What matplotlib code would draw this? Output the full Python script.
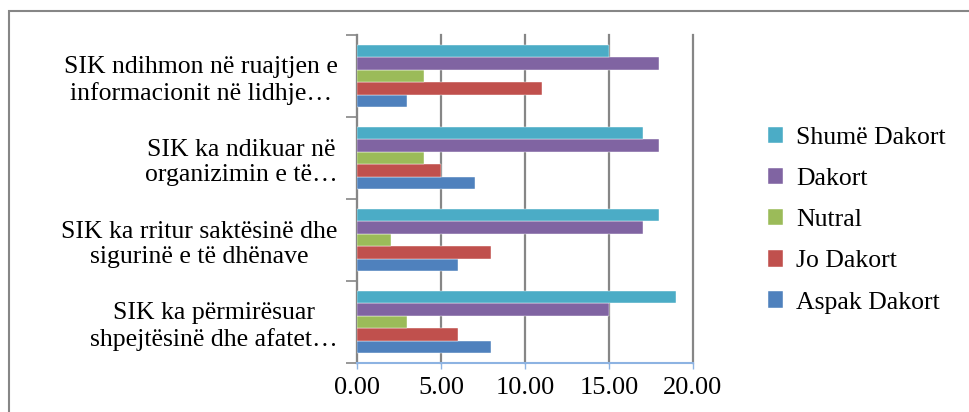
import matplotlib
matplotlib.use("Agg")
import matplotlib.pyplot as plt
from matplotlib.patches import Rectangle
import numpy as np

plt.rcParams['font.family'] = ['Liberation Serif', 'DejaVu Serif']

categories = [
    "SIK ka përmirësuar\nshpejtësinë dhe afatet…",
    "SIK ka rritur saktësinë dhe\nsigurinë e të dhënave",
    "SIK ka ndikuar në\norganizimin e të…",
    "SIK ndihmon në ruajtjen e\ninformacionit në lidhje…",
]
series = ["Aspak Dakort", "Jo Dakort", "Nutral", "Dakort", "Shumë Dakort"]
aspak_dakort = [8, 6, 7, 3]
jo_dakort = [6, 8, 5, 11]
nutral = [3, 2, 4, 4]
dakort = [15, 17, 18, 18]
shume_dakort = [19, 18, 17, 15]
values = [aspak_dakort, jo_dakort, nutral, dakort, shume_dakort]
colors = ['#4F81BD', '#C0504D', '#9BBB59', '#8064A2', '#4BACC6']
xticks = [0, 5, 10, 15, 20]

fig = plt.figure(figsize=(9.7, 4.12), dpi=100)
ax = fig.add_axes([357/970, 1-363/412, (693-357)/970, (363-35)/412])

y = np.arange(len(categories))
h = 0.152
for i, (name, vals) in enumerate(zip(series, values)):
    ax.barh(y + (i - 2) * h, vals, height=h, color=colors[i], label=name,
            edgecolor='white', linewidth=0.3, zorder=3)

ax.set_xlim(0, 20)
ax.set_ylim(-0.5, 3.5)
ax.set_xticks(xticks)
ax.set_xticklabels(["%.2f" % t for t in xticks], fontsize=19)
ax.xaxis.grid(True, color='#868686', linewidth=1.6, zorder=0, clip_on=False)
ax.tick_params(axis='x', length=4, width=1, color='#8DB3E2', pad=6)

ax.set_yticks(np.arange(-0.5, 4, 1))
ax.set_yticklabels([])
ax.tick_params(axis='y', which='major', length=8, width=1.2, color='#868686')
ax.set_yticks(y, minor=True)
ax.set_yticklabels(categories, minor=True, fontsize=18.5, multialignment='center',
                   linespacing=1.2)
ax.tick_params(axis='y', which='minor', length=0, pad=14)

for s in ['top', 'right']:
    ax.spines[s].set_visible(False)
ax.spines['left'].set_color('#868686')
ax.spines['left'].set_linewidth(1.5)
ax.spines['bottom'].set_color('#8DB3E2')
ax.spines['bottom'].set_linewidth(1.5)

handles, labels = ax.get_legend_handles_labels()
fig.legend(handles[::-1], labels[::-1], loc='upper left',
           bbox_to_anchor=(747/970, 1-106/412), frameon=False, fontsize=18.5,
           handlelength=0.6, handleheight=0.6, handletextpad=0.5,
           labelspacing=0.74, borderpad=0.3)

fig.patches.append(Rectangle((9/970, -0.5), 2, 0.5 + (412-11)/412,
                             transform=fig.transFigure, fill=False,
                             edgecolor='#868686', linewidth=1.5))

fig.savefig("out.png", dpi=100)
